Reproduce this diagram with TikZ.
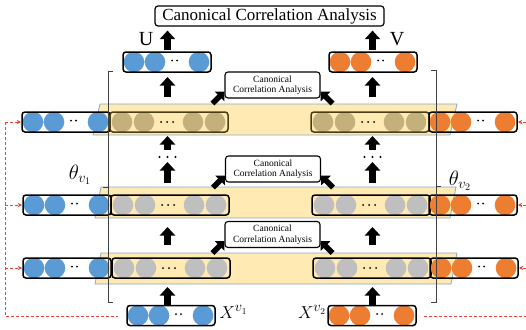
\documentclass[tikz,border=0pt]{standalone}
\usepackage{fontspec}
\setmainfont{Liberation Serif}
\usetikzlibrary{arrows.meta,calc}
\definecolor{vblue}{HTML}{5B9BD5}
\definecolor{vorange}{HTML}{ED7D31}
\definecolor{hgray}{HTML}{BFBFBF}
\definecolor{htan}{HTML}{C3B07A}
\definecolor{bandfill}{HTML}{FFEAB4}
\definecolor{bandline}{HTML}{8AA6CC}
\definecolor{dashred}{HTML}{E8453C}
\definecolor{darkolive}{HTML}{4A3D14}
\pgfdeclarelayer{back}
\pgfdeclarelayer{mid}
\pgfsetlayers{back,mid,main}
\tikzset{
  boxshape/.style={rectangle, minimum height=20pt, inner sep=0pt, outer sep=0pt},
  boxline/.style={draw=black, line width=1.5pt, rounded corners=3pt},
  band/.style={fill=bandfill, draw=bandline, line width=0.8pt},
  blockarr/.style={draw=black, line width=6.5pt, -{Triangle[width=15pt,length=8.5pt]}},
  diagarr/.style={draw=black, line width=5.5pt, -{Triangle[width=13pt,length=7pt]}},
  ccabox/.style={draw=black, fill=white, line width=1.1pt, rounded corners=3pt, minimum width=95pt, minimum height=26pt, inner sep=1pt, align=center, font=\fontsize{9.5}{10.5}\selectfont},
  bracketline/.style={draw=black!75, line width=0.9pt},
  reddash/.style={draw=dashred, line width=0.9pt, dash pattern=on 3pt off 2pt},
  redtip/.style={-{Stealth[length=4.5pt,width=4.5pt]}, shorten >=0.8pt},
  lbl/.style={inner sep=0pt},
}
\newcommand{\viewrow}[4]{%
  \node[boxshape, minimum width=88pt] (#1) at ({#2+44},#3) {};
  \fill[#4] ({#2+11},#3) circle (10.3pt) ({#2+32},#3) circle (10.3pt) ({#2+76},#3) circle (10.3pt);
  \fill[black] ({#2+49},{#3-1.5}) circle (1pt) ({#2+54},{#3-1.5}) circle (1pt);
  \draw[boxline] (#1.south west) rectangle (#1.north east);
}
\newcommand{\hiddenrow}[5]{%
  \node[boxshape, minimum width=118pt] (#1) at ({#2+59},#3) {};
  \fill[#4] ({#2+12},#3) circle (10.3pt) ({#2+34},#3) circle (10.3pt) ({#2+83},#3) circle (10.3pt) ({#2+105},#3) circle (10.3pt);
  \fill[black] ({#2+51},#3) circle (1pt) ({#2+57},#3) circle (1pt) ({#2+63},#3) circle (1pt);
  \draw[boxline, draw=#5] (#1.south west) rectangle (#1.north east);
}
\begin{document}
\begin{tikzpicture}[x=1pt,y=-1pt]
\useasboundingbox (0,0) rectangle (526,329);
% bands
\begin{pgfonlayer}{back}
\draw[band] (100,104) -- (457,104) -- (450,135) -- (93,135) -- cycle;
\draw[band] (101,187) -- (456,187) -- (450,218) -- (95,218) -- cycle;
\draw[band] (101,253) -- (457,253) -- (451,284) -- (95,284) -- cycle;
\end{pgfonlayer}
% rows of units
\viewrow{lb1}{22}{122}{vblue}
\hiddenrow{li1}{110}{122}{htan}{darkolive}
\hiddenrow{ri1}{311}{122}{htan}{darkolive}
\viewrow{ro1}{429}{122}{vorange}
\viewrow{lb2}{23}{205}{vblue}
\hiddenrow{li2}{111}{205}{hgray}{black}
\hiddenrow{ri2}{312}{205}{hgray}{black}
\viewrow{ro2}{429}{205}{vorange}
\viewrow{lb3}{23}{268}{vblue}
\hiddenrow{li3}{112}{268}{hgray}{black}
\hiddenrow{ri3}{313}{268}{hgray}{black}
\viewrow{ro3}{430}{268}{vorange}
\viewrow{ubox}{123}{62}{vblue}
\viewrow{vbox}{329}{62}{vorange}
\viewrow{xa}{127}{315.5}{vblue}
\viewrow{xb}{328}{315.5}{vorange}
% brackets
\draw[bracketline] (113,71) -- (108,71) -- (108,302) -- (113,302);
\draw[bracketline] (431,70) -- (436,70) -- (436,302) -- (431,302);
\draw[bracketline] (103,187) -- (108,187);
\draw[bracketline] (436,186) -- (441,186);
% title and CCA boxes
\node[draw=black, line width=1.2pt, rounded corners=3pt, minimum width=229pt, minimum height=20pt, inner sep=0pt, font=\fontsize{17}{20}\selectfont] (title) at (269.5,16) {Canonical Correlation Analysis};
\node[ccabox] (cca1) at (272.5,85) {Canonical\\Correlation Analysis};
\node[ccabox] (cca2) at (273,169) {Canonical\\Correlation Analysis};
\node[ccabox] (cca3) at (272.5,234.5) {Canonical\\Correlation Analysis};
\begin{pgfonlayer}{mid}
\foreach \c in {cca1,cca2,cca3}{
  \draw[diagarr] ($(\c.south west)+(-12,5)$) -- ($(\c.south west)+(0,-7)$);
  \draw[diagarr] ($(\c.south east)+(12,5)$) -- ($(\c.south east)+(0,-7)$);
}
\end{pgfonlayer}
% columns
\coordinate (lcol) at (167.5,0);
\coordinate (rcol) at (372.5,0);
\foreach \col/\top/\mid/\bot/\inp/\out in {lcol/li1/li2/li3/xa/ubox, rcol/ri1/ri2/ri3/xb/vbox}{
  \draw[blockarr, shorten <=2pt, shorten >=4pt] (\col |- \out.north) -- (\col |- title.south);
  \draw[blockarr, shorten <=15pt, shorten >=5pt] (\col |- \top.north) -- (\col |- \out.south);
  \draw[blockarr, shorten <=13pt, shorten >=12pt] (\col |- \bot.north) -- (\col |- \mid.south);
  \draw[blockarr, shorten <=1pt, shorten >=9pt] (\col |- \inp.north) -- (\col |- \bot.south);
  \draw[blockarr] ($(\col |- \top.south)+(0,18)$) -- ($(\col |- \top.south)+(0,4)$);
  \draw[blockarr] ($(\col |- \mid.north)+(0,-12)$) -- ($(\col |- \mid.north)+(0,-33)$);
  \fill[black] ($(\col |- \top.south)+(-8,25)$) circle (1.2pt) ($(\col |- \top.south)+(0,25)$) circle (1.2pt) ($(\col |- \top.south)+(8,25)$) circle (1.2pt);
}
% labels
\node[lbl, font=\fontsize{20}{24}\selectfont] (ulab) at (146,39.5) {U};
\node[lbl, font=\fontsize{20}{24}\selectfont] (vlab) at (397,39.5) {V};
\node[lbl, font=\fontsize{20}{24}\selectfont] (th1) at (80,175) {$\theta_{v_1}$};
\node[lbl, font=\fontsize{20}{24}\selectfont] (th2) at (460,181) {$\theta_{v_2}$};
\node[lbl, font=\fontsize{19}{23}\selectfont] (xal) at (233.5,312) {$X^{v_1}$};
\node[lbl, font=\fontsize{19}{23}\selectfont] (xbl) at (312,312) {$X^{v_2}$};
% red dashed feedback lines
\coordinate (lrail) at (5,122);
\coordinate (lend) at (118,316);
\coordinate (rrail) at (526,122);
\coordinate (rstart) at (424,316);
\draw[reddash] (lrail) -- (lrail |- lend) -- (lend);
\draw[reddash, redtip] (lrail |- lb1.west) -- (lb1.west);
\draw[reddash, redtip] (lrail |- lb2.west) -- (lb2.west);
\draw[reddash, redtip] (lrail |- lb3.west) -- (lb3.west);
\draw[reddash, redtip] (rrail |- ro1.east) -- (ro1.east);
\draw[reddash, redtip] (rrail |- ro2.east) -- (ro2.east);
\draw[reddash, redtip] (rrail |- ro3.east) -- (ro3.east);
\draw[reddash] (rstart) -- (rrail |- rstart);
\end{tikzpicture}
\end{document}
